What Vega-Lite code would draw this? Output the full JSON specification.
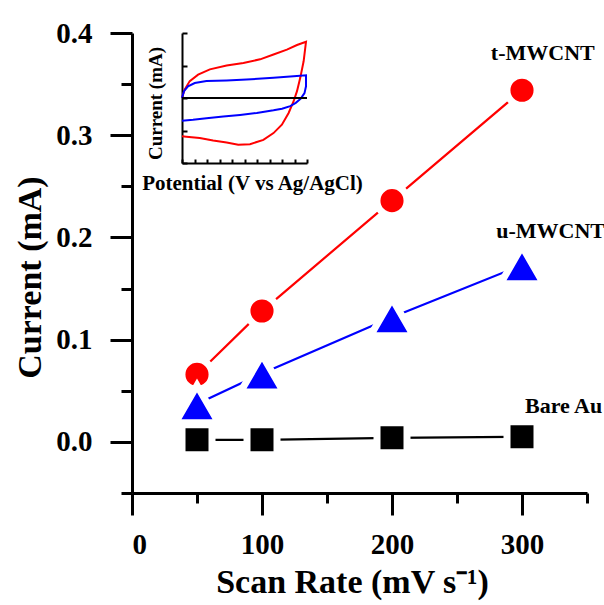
{
  "$schema": "https://vega.github.io/schema/vega-lite/v6.json",
  "autosize": {"type": "none"},
  "width": 455,
  "height": 460,
  "padding": {"left": 132, "top": 33, "right": 17, "bottom": 112},
  "background": "white",
  "config": {
    "font": "Liberation Serif",
    "view": {"stroke": null},
    "axis": {"grid": false, "domainColor": "black", "tickColor": "black", "labelColor": "black", "titleColor": "black", "labelFont": "Liberation Serif", "titleFont": "Liberation Serif", "labelFontWeight": "bold", "titleFontWeight": "bold"}
  },
  "datasets": {
    "main": [
      {"series": "t-MWCNT", "rate": 50, "current": 0.066},
      {"series": "t-MWCNT", "rate": 100, "current": 0.128},
      {"series": "t-MWCNT", "rate": 200, "current": 0.236},
      {"series": "t-MWCNT", "rate": 300, "current": 0.344},
      {"series": "u-MWCNT", "rate": 50, "current": 0.037},
      {"series": "u-MWCNT", "rate": 100, "current": 0.067},
      {"series": "u-MWCNT", "rate": 200, "current": 0.122},
      {"series": "u-MWCNT", "rate": 300, "current": 0.173},
      {"series": "Bare Au", "rate": 50, "current": 0.002},
      {"series": "Bare Au", "rate": 100, "current": 0.002},
      {"series": "Bare Au", "rate": 200, "current": 0.004},
      {"series": "Bare Au", "rate": 300, "current": 0.005}
    ],
    "labels": [
      {"label": "t-MWCNT", "rate": 316, "current": 0.38},
      {"label": "u-MWCNT", "rate": 322, "current": 0.206},
      {"label": "Bare Au", "rate": 332, "current": 0.035}
    ],
    "cv": [
      {"series": "t-MWCNT", "o": 1, "v": 0, "i": 0},
      {"series": "t-MWCNT", "o": 2, "v": 0.21, "i": 0.26},
      {"series": "t-MWCNT", "o": 3, "v": 0.62, "i": 0.52},
      {"series": "t-MWCNT", "o": 4, "v": 1.29, "i": 0.72},
      {"series": "t-MWCNT", "o": 5, "v": 2.23, "i": 0.88},
      {"series": "t-MWCNT", "o": 6, "v": 3.57, "i": 1.0},
      {"series": "t-MWCNT", "o": 7, "v": 4.91, "i": 1.08},
      {"series": "t-MWCNT", "o": 8, "v": 6.25, "i": 1.19},
      {"series": "t-MWCNT", "o": 9, "v": 7.32, "i": 1.34},
      {"series": "t-MWCNT", "o": 10, "v": 8.39, "i": 1.49},
      {"series": "t-MWCNT", "o": 11, "v": 9.2, "i": 1.63},
      {"series": "t-MWCNT", "o": 12, "v": 9.92, "i": 1.73},
      {"series": "t-MWCNT", "o": 13, "v": 9.73, "i": 1.13},
      {"series": "t-MWCNT", "o": 14, "v": 9.46, "i": 0.62},
      {"series": "t-MWCNT", "o": 15, "v": 9.2, "i": 0.21},
      {"series": "t-MWCNT", "o": 16, "v": 8.93, "i": -0.1},
      {"series": "t-MWCNT", "o": 17, "v": 8.53, "i": -0.46},
      {"series": "t-MWCNT", "o": 18, "v": 7.99, "i": -0.82},
      {"series": "t-MWCNT", "o": 19, "v": 7.32, "i": -1.08},
      {"series": "t-MWCNT", "o": 20, "v": 6.51, "i": -1.29},
      {"series": "t-MWCNT", "o": 21, "v": 5.44, "i": -1.42},
      {"series": "t-MWCNT", "o": 22, "v": 4.5, "i": -1.44},
      {"series": "t-MWCNT", "o": 23, "v": 3.57, "i": -1.37},
      {"series": "t-MWCNT", "o": 24, "v": 2.49, "i": -1.31},
      {"series": "t-MWCNT", "o": 25, "v": 1.42, "i": -1.23},
      {"series": "t-MWCNT", "o": 26, "v": 0.35, "i": -1.19},
      {"series": "t-MWCNT", "o": 27, "v": 0, "i": -1.18},
      {"series": "u-MWCNT", "o": 1, "v": 0, "i": 0},
      {"series": "u-MWCNT", "o": 2, "v": 0.16, "i": 0.21},
      {"series": "u-MWCNT", "o": 3, "v": 0.48, "i": 0.36},
      {"series": "u-MWCNT", "o": 4, "v": 1.02, "i": 0.46},
      {"series": "u-MWCNT", "o": 5, "v": 1.96, "i": 0.52},
      {"series": "u-MWCNT", "o": 6, "v": 3.57, "i": 0.54},
      {"series": "u-MWCNT", "o": 7, "v": 5.17, "i": 0.57},
      {"series": "u-MWCNT", "o": 8, "v": 7.32, "i": 0.62},
      {"series": "u-MWCNT", "o": 9, "v": 8.93, "i": 0.67},
      {"series": "u-MWCNT", "o": 10, "v": 9.92, "i": 0.7},
      {"series": "u-MWCNT", "o": 11, "v": 9.92, "i": 0.36},
      {"series": "u-MWCNT", "o": 12, "v": 9.8, "i": 0.15},
      {"series": "u-MWCNT", "o": 13, "v": 9.5, "i": -0.02},
      {"series": "u-MWCNT", "o": 14, "v": 9.1, "i": -0.15},
      {"series": "u-MWCNT", "o": 15, "v": 8.66, "i": -0.25},
      {"series": "u-MWCNT", "o": 16, "v": 8.0, "i": -0.33},
      {"series": "u-MWCNT", "o": 17, "v": 7.32, "i": -0.38},
      {"series": "u-MWCNT", "o": 18, "v": 5.98, "i": -0.46},
      {"series": "u-MWCNT", "o": 19, "v": 4.64, "i": -0.52},
      {"series": "u-MWCNT", "o": 20, "v": 3.3, "i": -0.57},
      {"series": "u-MWCNT", "o": 21, "v": 1.96, "i": -0.62},
      {"series": "u-MWCNT", "o": 22, "v": 0.88, "i": -0.67},
      {"series": "u-MWCNT", "o": 23, "v": 0, "i": -0.7},
      {"series": "Bare Au", "o": 1, "v": 0, "i": 0},
      {"series": "Bare Au", "o": 2, "v": 10, "i": 0}
    ]
  },
  "layer": [
    {
      "layer": [
        {
          "data": {"name": "main"},
          "mark": {"type": "line", "strokeWidth": 2.2},
          "encoding": {
            "x": {"field": "rate", "type": "quantitative"},
            "y": {"field": "current", "type": "quantitative"},
            "color": {"field": "series", "type": "nominal", "scale": {"domain": ["t-MWCNT", "u-MWCNT", "Bare Au"], "range": ["#ff0000", "#0000ff", "#000000"]}, "legend": null}
          }
        },
        {
          "data": {"name": "main"},
          "transform": [{"filter": "datum.series === 't-MWCNT'"}],
          "mark": {"type": "point", "shape": "circle", "size": 908, "filled": true, "fill": "#ff0000", "opacity": 1, "stroke": "white", "strokeWidth": 7, "strokeOpacity": 1},
          "encoding": {
            "x": {"field": "rate", "type": "quantitative"},
            "y": {"field": "current", "type": "quantitative"}
          }
        },
        {
          "data": {"name": "main"},
          "transform": [{"filter": "datum.series === 'u-MWCNT'"}],
          "mark": {"type": "point", "shape": "triangle-up", "size": 1858, "filled": true, "fill": "#0000ff", "opacity": 1, "stroke": "white", "strokeWidth": 7, "strokeOpacity": 1},
          "encoding": {
            "x": {"field": "rate", "type": "quantitative"},
            "y": {"field": "current", "type": "quantitative"}
          }
        },
        {
          "data": {"name": "main"},
          "transform": [{"filter": "datum.series === 'Bare Au'"}],
          "mark": {"type": "point", "shape": "square", "size": 900, "filled": true, "fill": "#000000", "opacity": 1, "stroke": "white", "strokeWidth": 7, "strokeOpacity": 1},
          "encoding": {
            "x": {"field": "rate", "type": "quantitative"},
            "y": {"field": "current", "type": "quantitative"}
          }
        },
        {
          "data": {"name": "labels"},
          "mark": {"type": "text", "fontWeight": "bold", "fontSize": 22, "font": "Liberation Serif", "fill": "black"},
          "encoding": {
            "x": {"field": "rate", "type": "quantitative"},
            "y": {"field": "current", "type": "quantitative"},
            "text": {"field": "label"}
          }
        }
      ],
      "encoding": {
        "x": {
          "field": "rate", "type": "quantitative",
          "scale": {"domain": [0, 350], "nice": false, "zero": false},
          "axis": {
            "orient": "bottom",
            "title": "Scan Rate (mV s⁻¹)",
            "values": [0, 50, 100, 150, 200, 250, 300, 350],
            "labelExpr": "datum.value % 100 === 0 ? datum.label : ''",
            "tickSize": {"condition": {"test": "datum.value % 100 === 0", "value": 22}, "value": 10},
            "tickWidth": 3, "domainWidth": 3,
            "labelFontSize": 29, "labelPadding": 15, "titleFontSize": 34, "titlePadding": 6, "titleX": 220
          }
        },
        "y": {
          "field": "current", "type": "quantitative",
          "scale": {"domain": [-0.05, 0.4], "nice": false, "zero": false},
          "axis": {
            "orient": "left",
            "title": "Current (mA)",
            "values": [-0.05, 0, 0.05, 0.1, 0.15, 0.2, 0.25, 0.3, 0.35, 0.4],
            "format": ".1f",
            "labelExpr": "round(datum.value * 100) % 10 === 0 ? datum.label : ''",
            "tickSize": {"condition": {"test": "round(datum.value * 100) % 10 === 0", "value": 22}, "value": 11},
            "tickWidth": 3, "domainWidth": 3,
            "labelFontSize": 29, "labelPadding": 18, "titleFontSize": 34, "titlePadding": 8, "titleY": 244
          }
        }
      }
    },
    {
      "data": {"name": "cv"},
      "mark": {"type": "line", "strokeWidth": 2},
      "encoding": {
        "x": {
          "field": "v", "type": "quantitative",
          "scale": {"domain": [0, 10], "range": [50, 175], "nice": false, "zero": false},
          "axis": {
            "orient": "bottom", "offset": -330,
            "title": "Potential (V vs Ag/AgCl)",
            "values": [0, 1, 2, 3, 4, 5, 6, 7, 8, 9, 10],
            "labels": false, "tickSize": -4, "tickWidth": 2, "domainWidth": 2,
            "titleFontSize": 21, "titlePadding": 8, "titleX": 120
          }
        },
        "y": {
          "field": "i", "type": "quantitative",
          "scale": {"domain": [-2, 2], "range": [130, 0], "nice": false, "zero": false},
          "axis": {
            "orient": "left", "offset": -50,
            "title": "Current (mA)",
            "values": [-2, -1, 0, 1, 2],
            "labels": false, "tickSize": -5, "tickWidth": 2, "domainWidth": 2,
            "titleFontSize": 19, "titlePadding": 16, "titleY": 70
          }
        },
        "color": {"field": "series", "type": "nominal", "scale": {"domain": ["t-MWCNT", "u-MWCNT", "Bare Au"], "range": ["#ff0000", "#0000ff", "#000000"]}, "legend": null},
        "order": {"field": "o", "type": "quantitative"}
      }
    }
  ],
  "resolve": {"scale": {"x": "independent", "y": "independent"}, "axis": {"x": "independent", "y": "independent"}}
}
